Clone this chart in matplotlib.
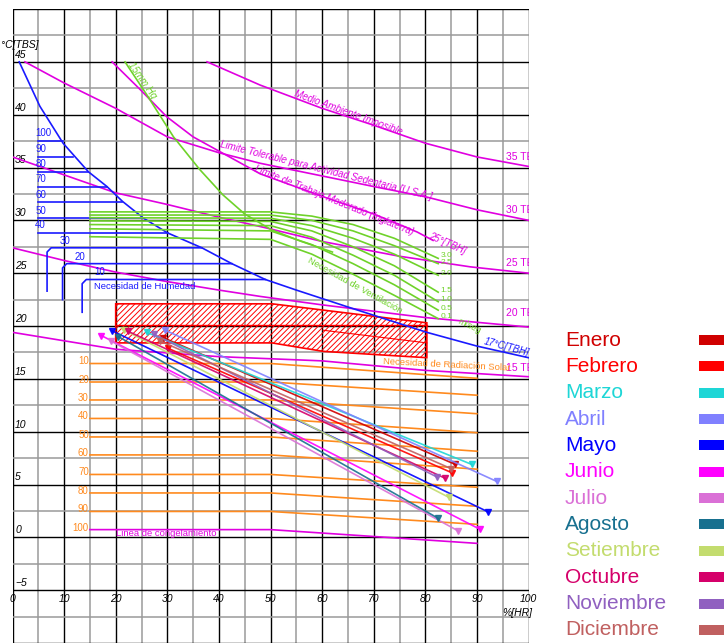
import matplotlib.pyplot as plt

plt.rcParams["font.family"] = ["Liberation Sans", "DejaVu Sans"]
plt.rcParams["hatch.linewidth"] = 0.7

# comfort-zone (carta bioclimatica) reference curves, x = %HR, y = degC TBS
wb17_x = [1.3, 5.3, 9.8, 14.7, 18.3, 21.3, 25.4, 30.1, 36.7, 42.5, 49, 55, 65, 80.3, 90, 100]
wb17_y = [45, 40.8, 37.3, 34.6, 33.2, 31.8, 30.2, 28.8, 27.4, 25.9, 24.4, 23.4, 21.8, 19.4, 18.1, 17.0]

te35_x = [37.7, 48, 60, 70, 80, 90, 100]
te35_y = [45, 42.8, 40.6, 39.0, 37.3, 36.0, 35.1]
te30_x = [2.4, 10, 20, 30, 40, 48, 60, 70, 80.3, 90, 100]
te30_y = [45, 43.0, 40.6, 37.9, 36.4, 35.4, 34.2, 33.2, 32.2, 31.0, 30.0]
moder_x = [19.3, 24.7, 29.9, 35, 40.2, 48, 61, 70, 78.4, 81.5]
moder_y = [45, 42.4, 39.8, 37.9, 36.5, 34.4, 32.1, 30.6, 28.9, 28.1]
te25_x = [0, 10, 20, 30, 40, 49, 60, 75, 88.7, 100]
te25_y = [36.0, 34.3, 32.6, 31.5, 30.3, 29.3, 28.0, 26.6, 25.6, 25.0]
te20_x = [0, 10, 20, 30, 40, 48, 60, 80, 100]
te20_y = [27.4, 26.2, 25.1, 24.2, 23.4, 22.8, 22.0, 20.8, 19.9]
te15_x = [0, 10, 20, 40, 60, 80, 100]
te15_y = [19.4, 18.6, 17.8, 17.1, 16.7, 15.8, 15.2]

hg15_x = [21.8, 26, 31.2, 36.3, 40.8, 45, 50.2, 56, 62]
hg15_y = [45, 41.9, 37.9, 34.8, 32.4, 30.6, 29.1, 28.0, 27.0]

# humedad
hum_labels = ["100", "90", "80", "70", "60", "50", "40"]
hum_y = [37.5, 36.0, 34.6, 33.2, 31.7, 30.2, 28.8]
hum_xend = [9.8, 11.8, 14.7, 18.3, 21.3, 25.4, 30.1]
hum2_labels = ["30", "20", "10"]
hum2_x = [6.7, 9.7, 13.5]
hum2_top = [27.4, 25.9, 24.4]
hum2_bottom = [23.3, 22.5, 21.3]
hum2_xend = [36.7, 42.5, 49]

# ventilacion
vent_labels = ["3.0", "2.5", "2.0", "1.5", "1.0", "0.5", "0.1"]
vent_x = [15, 50, 58, 66, 74, 82.5]
vent_y = [
    [30.8, 30.8, 30.4, 29.6, 28.3, 26.4],
    [30.5, 30.5, 30.0, 29.0, 27.6, 25.9],
    [30.25, 30.2, 29.5, 28.3, 26.8, 24.8],
    [29.95, 29.9, 29.0, 27.5, 25.7, 23.2],
    [29.6, 29.5, 28.4, 26.7, 24.8, 22.3],
    [29.2, 29.0, 27.7, 25.9, 23.9, 21.5],
    [28.45, 28.2, 26.8, 24.9, 22.9, 20.7],
]
vent_label_y = [26.7, 26.0, 25.0, 23.4, 22.5, 21.7, 20.9]

# radiacion solar
rad_labels = ["10", "20", "30", "40", "50", "60", "70", "80", "90", "100"]
rad_y0 = [16.45, 14.7, 13.0, 11.25, 9.5, 7.8, 5.95, 4.2, 2.45, 0.73]
rad_y1 = [15.05, 13.45, 11.7, 9.9, 8.15, 6.45, 4.74, 2.94, 1.23, -0.57]

# zona de confort
comfort_x = [20, 50.3, 80.3, 80.3, 60.2, 50.3, 20]
comfort_y = [22.1, 22.1, 20.3, 17.0, 17.6, 18.4, 18.4]

# meses: (HR min, T max) -> (HR max, T min)
months = ["Enero", "Febrero", "Marzo", "Abril", "Mayo", "Junio", "Julio",
          "Agosto", "Setiembre", "Octubre", "Noviembre", "Diciembre"]
month_colors = ["#d00000", "#ff0000", "#1ed6d6", "#8080ff", "#0000ff", "#ff00ff",
                "#da70d6", "#17708f", "#c3dc6e", "#d5006a", "#9060c0", "#c06060"]
hr_min = [29.2, 30.1, 26.0, 29.6, 19.3, 17.2, 19.0, 20.5, 21.7, 22.4, 27.5, 28.5]
t_max = [18.9, 17.9, 19.4, 19.6, 19.55, 19.1, 18.6, 19.0, 19.6, 19.5, 19.2, 18.6]
hr_max = [85.8, 85.2, 89.0, 93.8, 92.2, 90.6, 86.4, 82.5, 84.5, 83.8, 82.3, 85.0]
t_min = [6.9, 6.1, 6.9, 5.3, 2.4, 0.76, 0.6, 1.8, 3.8, 5.6, 5.7, 6.5]

MAG = "#e000e0"
GREEN = "#6fd22a"
ORANGE = "#ff8a1e"
BLUE = "#1a1aff"

fig = plt.figure(figsize=(7.24, 6.44), dpi=100)
ax = fig.add_axes([12.5 / 724, 1 / 644, 516 / 724, 634 / 644])
ax.set_xlim(0, 100)
ax.set_ylim(-10, 50)
for s in ax.spines.values():
    s.set_visible(False)
ax.set_xticks([])
ax.set_yticks([])

# rejilla
for x in range(0, 101, 5):
    major = x % 10 == 0
    ax.axvline(x, color="black" if major else "#9a9a9a", lw=1.0 if major else 1.1, zorder=0)
for i in range(0, 25):
    y = -10 + 2.5 * i
    major = i % 2 == 0
    ax.axhline(y, color="black" if major else "#9a9a9a", lw=1.0 if major else 1.1, zorder=0)

it = dict(style="italic", fontsize=7.5)
for v in [45, 40, 35, 30, 25, 20, 15, 10, 5, 0, -5]:
    ax.text(0.5, v + 0.2, str(v).replace("-", "\u2212"), ha="left", va="bottom", **it)
for v in range(0, 101, 10):
    ax.text(v, -5.4, str(v), ha="center", va="top", **it)
ax.text(95, -7.6, "%[HR]", ha="left", va="bottom", **it)
ax.text(-2.2, 46.1, "\u00b0C[TBS]", ha="left", va="bottom", clip_on=False, **it)

# temperaturas efectivas
for xs, ys in [(te35_x, te35_y), (te30_x, te30_y), (moder_x, moder_y),
               (te25_x, te25_y), (te20_x, te20_y), (te15_x, te15_y)]:
    ax.plot(xs, ys, color=MAG, lw=1.2, zorder=3)
for lab, y in zip(["35 TE", "30 TE", "25 TE", "20 TE", "15 TE"], [36.0, 31.0, 26.0, 21.2, 16.0]):
    ax.text(95.6, y, lab, color=MAG, fontsize=7.5, ha="left", va="center", clip_on=True)
mag_it = dict(color=MAG, style="italic", fontsize=7, ha="center", va="center")
ax.text(65, 40.2, "Medio Ambiente Imposible", rotation=-20, **mag_it)
ax.text(60.8, 34.7, "Limite Tolerable para Actividad Sedentaria [U.S.A.]", rotation=-14, **mag_it)
ax.text(62.3, 31.9, "Limite de Trabajo Moderado (Inglaterra)", rotation=-22, **mag_it)
ax.text(84.2, 27.8, "25\u00b0[TBH]", rotation=-24, **mag_it)

# humedad
ax.plot(wb17_x, wb17_y, color=BLUE, lw=1.2, zorder=3)
ax.text(95.8, 18.0, "17\u00b0C[TBH]", color=BLUE, style="italic", fontsize=7,
        rotation=-15, ha="center", va="center")
for lab, y, xe in zip(hum_labels, hum_y, hum_xend):
    ax.plot([5, xe], [y, y], color=BLUE, lw=1.2, zorder=3)
    ax.text(4.4, y + 0.25, lab, color=BLUE, fontsize=7, ha="left", va="bottom")
for lab, x, yt, yb, xe in zip(hum2_labels, hum2_x, hum2_top, hum2_bottom, hum2_xend):
    ax.plot([x, x, x + 0.8, xe], [yb, yt - 0.4, yt, yt], color=BLUE, lw=1.2, zorder=3)
    ax.text(x + 2.4, yt + 0.2, lab, color=BLUE, fontsize=7, ha="left", va="bottom")
ax.text(15.8, 23.7, "Necesidad de Humedad", color=BLUE, fontsize=6.8, ha="left", va="center")

# ventilacion
ax.plot(hg15_x, hg15_y, color=GREEN, lw=1.2, zorder=3)
ax.text(25.2, 43.2, "15mm Hg", color=GREEN, style="italic", fontsize=7,
        rotation=-55, ha="center", va="center")
for ys, lab, ly in zip(vent_y, vent_labels, vent_label_y):
    ax.plot(vent_x, ys, color=GREEN, lw=1.2, zorder=3)
    ax.text(83.0, ly, lab, color=GREEN, fontsize=6, ha="left", va="center")
ax.text(88.5, 20.0, "m/seg", color=GREEN, fontsize=6.5, rotation=-25, ha="center", va="center")
ax.text(66.4, 23.8, "Necesidad de Ventilaci\u00f3n", color=GREEN, fontsize=6.8,
        rotation=-29, ha="center", va="center")

# zona de confort
ax.fill(comfort_x, comfort_y, facecolor="none", edgecolor="red", hatch="//////", lw=1.2, zorder=2)
ax.plot([20, 80.3], [20.1, 20.1], color="red", lw=1.0, zorder=2)
ax.plot([60.2, 80.3], [19.6, 18.4], color="red", lw=0.8, zorder=2)

# radiacion solar
for i, (lab, y0, y1) in enumerate(zip(rad_labels, rad_y0, rad_y1)):
    c = MAG if lab == "100" else ORANGE
    ax.plot([15, 50, 90], [y0, y0, y1], color=c, lw=1.2, zorder=3)
    ax.text(14.8, y0 + 0.2, lab, color=ORANGE, fontsize=7, ha="right", va="center")
ax.text(71.8, 16.3, "Necesidad de Radiaci\u00f3n Solar", color=ORANGE, fontsize=6.8,
        rotation=-3, ha="left", va="center")
ax.text(20, 0.35, "Linea de congelamiento", color=MAG, fontsize=6.8, ha="left", va="center")

# meses
for c, x0, y0, x1, y1 in zip(month_colors, hr_min, t_max, hr_max, t_min):
    ax.plot([x0, x1], [y0, y1], color=c, lw=1.2, alpha=0.9, zorder=4,
            marker="v", markersize=4.5, markevery=[0, 1])

# leyenda
for i, (m, c) in enumerate(zip(months, month_colors)):
    yp = 1 - (340 + 26.35 * i) / 644
    fig.text(565 / 724, yp, m, color=c, fontsize=15, ha="left", va="center")
    fig.patches.append(plt.Rectangle((699 / 724, yp - 5 / 644), 30 / 724, 10 / 644,
                                     transform=fig.transFigure, facecolor=c,
                                     edgecolor="none"))

fig.savefig("out.png", dpi=100)
